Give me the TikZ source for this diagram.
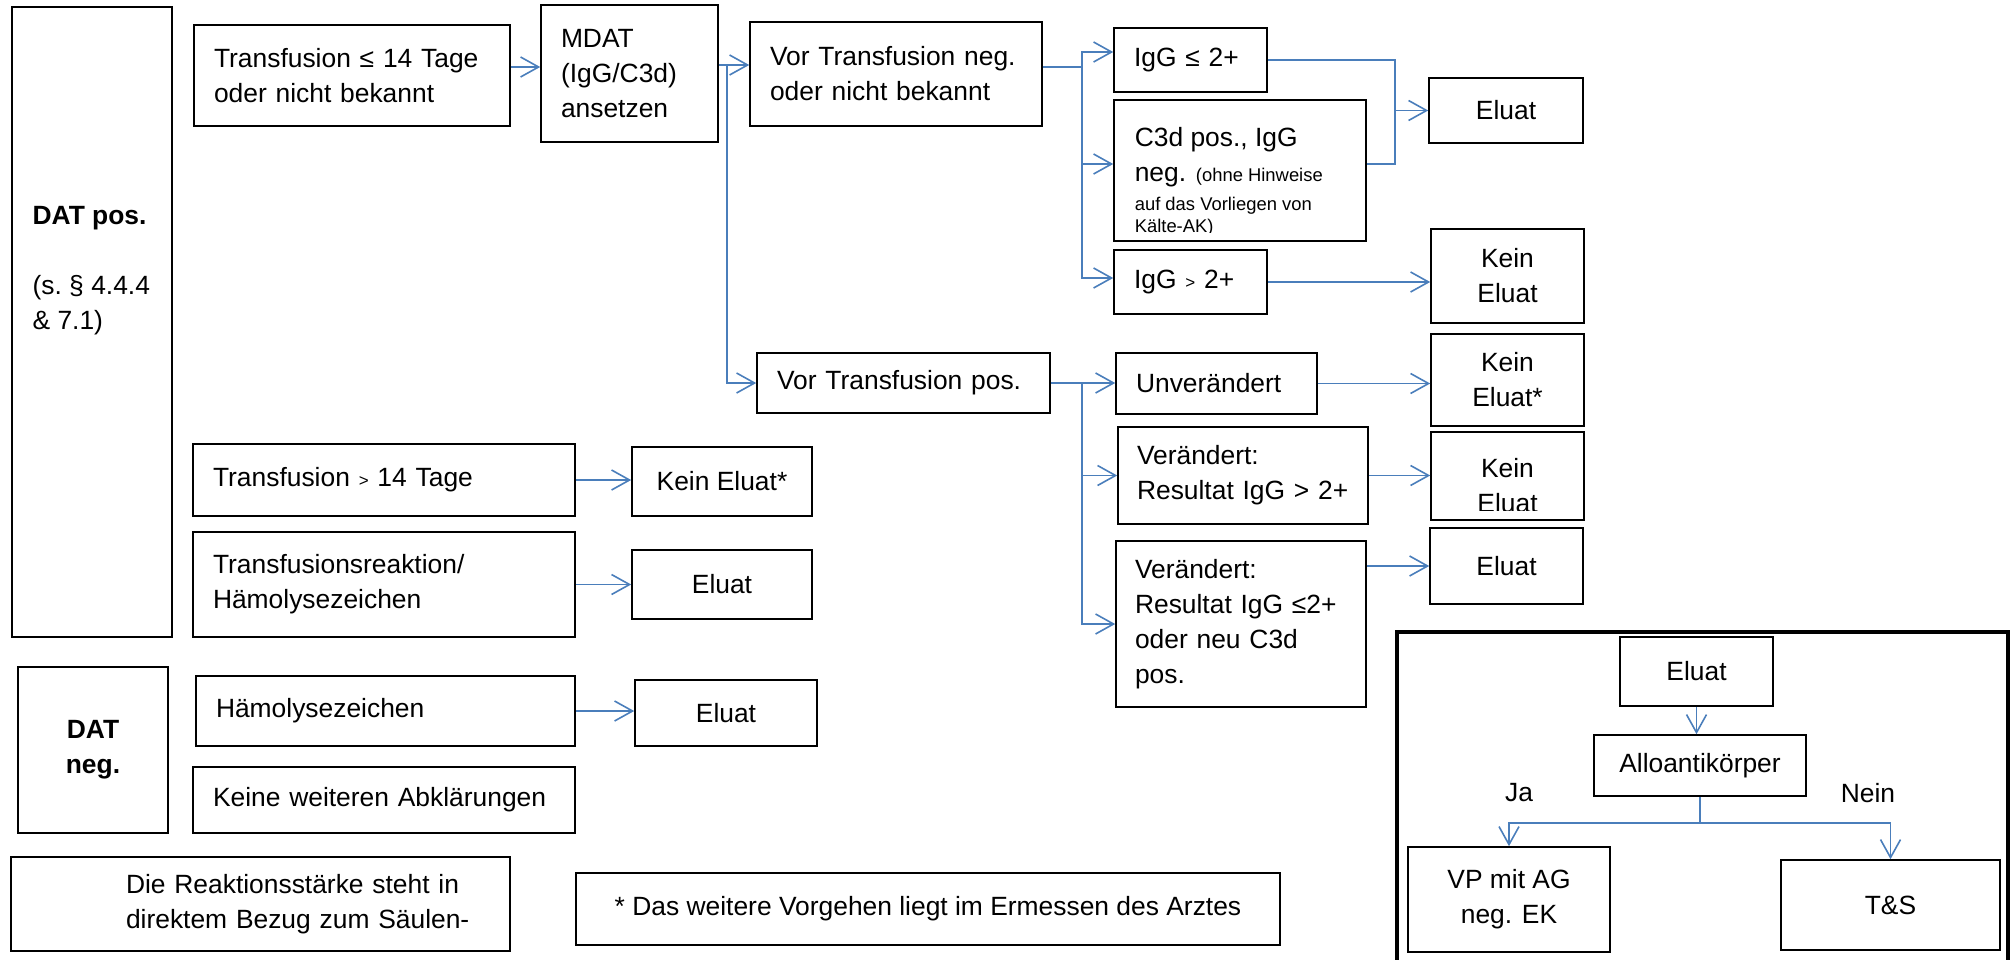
\documentclass[tikz,border=0pt]{standalone}
\usepackage{fontspec}
\setmainfont{Liberation Sans}
\usetikzlibrary{arrows.meta,positioning}
\definecolor{connblue}{RGB}{74,126,187}
\newcommand{\mainsz}{\fontsize{13.2}{17.5}\selectfont}
\newcommand{\smallsz}{\fontsize{9.2}{12}\selectfont}
\newcommand{\minigt}{{\fontsize{8.5}{10}\selectfont >}}

\begin{document}
\begin{tikzpicture}[x=0.5pt, y=-0.5pt,
  box/.style={draw, line width=0.8pt, inner sep=0pt, font=\mainsz},
  lbox/.style={box, align=left},
  cbox/.style={box, align=center},
  outer/.style={draw, line width=2.2pt, inner sep=0pt},
  arr/.style={draw=connblue, line width=0.8pt, -{Straight Barb[length=9pt, width=10pt]}},
  conn/.style={draw=connblue, line width=0.8pt},
  note/.style={font=\mainsz, inner sep=0pt},
  cliptext/.style={note, draw=none, minimum width=0pt, minimum height=0pt, text width=, path picture=}
]
\useasboundingbox (0,0) rectangle (2013,959);
\clip (0,0) rectangle (2013,959);

% left column
\node[box, minimum width=80pt, minimum height=315pt,
  label={[note, align=left, anchor=west, xshift=10.5pt, yshift=25.75pt]west:{\textbf{DAT pos.}\\[17.5pt](s.~§~4.4.4\\\&~7.1)}}] (datpos) at (92,322) {};
\node[cbox, font=\mainsz\bfseries, minimum width=75pt, minimum height=83pt] (datneg) at (93,750) {DAT\\neg.};

\node[lbox, minimum width=158pt, minimum height=50.5pt, text width=138pt] (trle) at (352,75.5) {Transfusion ≤ 14 Tage\\oder nicht bekannt};
\node[lbox, minimum width=191pt, minimum height=36pt, text width=171pt] (trgt) at (384,480) {Transfusion \minigt{} 14 Tage};
\node[lbox, minimum width=191pt, minimum height=52.5pt, text width=171pt] (trreak) at (384,584.5) {Transfusionsreaktion/\\Hämolysezeichen};
\node[lbox, minimum width=189.5pt, minimum height=35pt, text width=169.5pt] (haemo) at (385.5,711) {Hämolysezeichen};
\node[lbox, minimum width=191pt, minimum height=33pt, text width=171pt] (keine) at (384,800) {Keine weiteren Abklärungen};

\node[cbox, minimum width=90pt, minimum height=34.5pt] (keinl) at (722,481.5) {Kein Eluat*};
\node[cbox, minimum width=90pt, minimum height=34.5pt] (eluatl1) at (722,584.5) {Eluat};
\node[cbox, minimum width=91pt, minimum height=33pt] (eluatl2) at (726,713) {Eluat};

\node[lbox, minimum width=249.5pt, minimum height=47pt, text width=229.5pt] (reakt) at (260.5,904) {\hspace*{47.5pt}Die Reaktionsstärke steht in\\\hspace*{47.5pt}direktem Bezug zum Säulen-};
\node[box, minimum width=352pt, minimum height=36pt] (vorgehen) at (928,909) {* Das weitere Vorgehen liegt im Ermessen des Arztes};

% MDAT branch
\node[lbox, minimum width=88.5pt, minimum height=68.5pt, text width=68.5pt] (mdat) at (629.5,73.5) {MDAT\\(IgG/C3d)\\ansetzen};
\node[lbox, minimum width=146pt, minimum height=52pt, text width=126pt] (vorneg) at (896,74) {Vor~Transfusion~neg.\\oder nicht bekannt};
\node[lbox, minimum width=146.5pt, minimum height=30pt, text width=126.5pt] (vorpos) at (903.5,383) {Vor Transfusion pos.};

\node[lbox, minimum width=76.5pt, minimum height=32pt, text width=56.5pt] (igglo) at (1190.5,60) {IgG~≤~2+};
\node[box, minimum width=126pt, minimum height=70.5pt, path picture={
  \clip ([yshift=4.5pt]path picture bounding box.south west) rectangle (path picture bounding box.north east);
  \node[cliptext, align=left, anchor=north west] at ([xshift=10pt, yshift=-13.5pt]path picture bounding box.north west)
    {C3d pos., IgG\\neg. {\smallsz (ohne Hinweise}\\[-3pt]\smallsz auf das Vorliegen von\\[-6.5pt]\smallsz Kälte-AK)};
}] (c3d) at (1240,170.5) {};
\node[lbox, minimum width=76.5pt, minimum height=32pt, text width=56.5pt] (igghi) at (1190.5,282) {IgG~\minigt{}~2+};

\node[lbox, minimum width=100.5pt, minimum height=30.5pt, text width=80.5pt] (unver) at (1216.5,383.5) {Unverändert};
\node[lbox, minimum width=125pt, minimum height=48.5pt, text width=106pt] (ver1) at (1243,475.5) {Verändert:\\Resultat~IgG~>~2+};
\node[lbox, minimum width=125pt, minimum height=83pt, text width=106pt] (ver2) at (1241,624) {Verändert:\\Resultat~IgG~≤2+\\oder neu C3d\\pos.};

\node[cbox, minimum width=77pt, minimum height=32.5pt] (eluat1) at (1506,110.5) {Eluat};
\node[cbox, minimum width=76.5pt, minimum height=47pt] (kein1) at (1507.5,276) {Kein\\Eluat};
\node[cbox, minimum width=76.5pt, minimum height=46pt] (kein2) at (1507.5,380) {Kein\\Eluat*};
\node[box, minimum width=76.5pt, minimum height=44pt, path picture={
  \clip ([yshift=5pt]path picture bounding box.south west) rectangle (path picture bounding box.north east);
  \node[cliptext, align=center, anchor=north] at ([yshift=-13pt]path picture bounding box.north) {Kein\\Eluat};
}] (kein3) at (1507.5,476) {};
\node[cbox, minimum width=76.5pt, minimum height=38pt] (eluat2) at (1506.5,566) {Eluat};

% framed legend
\node[outer, minimum width=305.5pt, minimum height=168pt] (frame) at (1702.5,800) {};
\node[cbox, minimum width=76.5pt, minimum height=34.5pt] (eluat3) at (1696.5,671.5) {Eluat};
\node[cbox, minimum width=106pt, minimum height=30.5pt] (allo) at (1700,765.5) {Alloantikörper};
\node[cbox, minimum width=101pt, minimum height=52.5pt] (vp) at (1509,899.5) {VP mit AG\\neg. EK};
\node[cbox, minimum width=109.5pt, minimum height=45pt] (ts) at (1890.5,905) {T\&S};
\node[note] (ja) at (1519,793) {Ja};
\node[note] (nein) at (1868,793) {Nein};

% connectors
\coordinate (a1) at ([yshift=4.25pt]trle.east);
\draw[arr] (a1) -- (a1 -| mdat.west);
\coordinate (mdsplit) at (727,65);
\draw[arr] (mdat.east |- mdsplit) -- (mdsplit -| vorneg.west);
\draw[arr] (mdsplit) |- (vorpos.west);

\coordinate (negsplit) at (1082,67);
\draw[conn] (vorneg.east |- negsplit) -- (negsplit);
\draw[arr] (negsplit) |- ([yshift=4pt]igglo.west);
\draw[arr] (negsplit) |- ([yshift=3.25pt]c3d.west);
\draw[arr] (negsplit) |- ([yshift=2pt]igghi.west);

\coordinate (jbot) at (1395,164);
\draw[conn] (igglo.east) -| (jbot) -- (jbot -| c3d.east);
\draw[arr] (jbot |- eluat1.west) -- (eluat1.west);
\draw[arr] (igghi.east) -- (igghi.east -| kein1.west);

\coordinate (possplit) at (1082,383);
\draw[conn] (vorpos.east) -- (possplit);
\draw[arr] (possplit) -- (possplit -| unver.west);
\draw[arr] (possplit) |- (ver1.west);
\draw[arr] (possplit) |- (ver2.west);
\draw[arr] (unver.east) -- (unver.east -| kein2.west);
\draw[arr] (ver1.east) -- (ver1.east -| kein3.west);
\draw[arr] (ver2.east |- eluat2.west) -- (eluat2.west);

\draw[arr] (trgt.east) -- (trgt.east -| keinl.west);
\draw[arr] (trreak.east) -- (trreak.east -| eluatl1.west);
\draw[arr] (haemo.east) -- (haemo.east -| eluatl2.west);

\draw[arr] (eluat3.south) -- (eluat3.south |- allo.north);
\coordinate (fork) at (1700,823);
\draw[conn] (allo.south) -- (fork);
\draw[arr] (fork) -| (vp.north);
\draw[arr] (fork) -| (ts.north);

\end{tikzpicture}
\end{document}
